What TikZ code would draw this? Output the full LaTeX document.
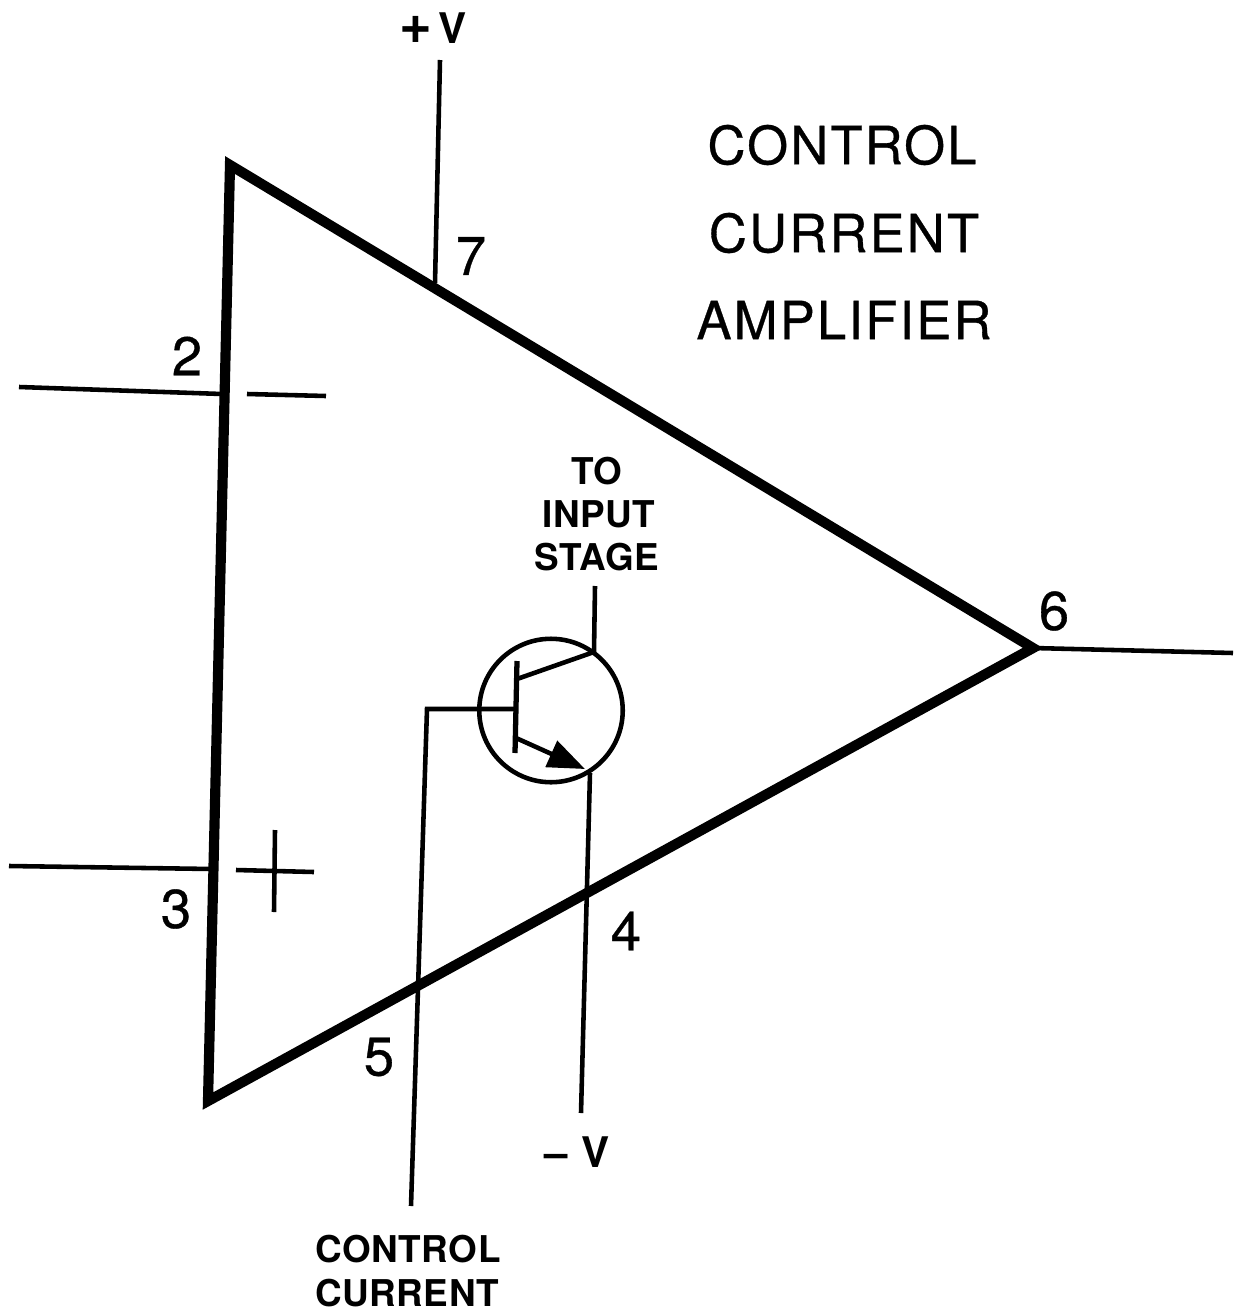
\documentclass[tikz,border=0pt]{standalone}
\usepackage{fontspec}
\setmainfont{TeX Gyre Heros}
\newfontfamily\titlefont[LetterSpace=4,FakeBold=0.6]{TeX Gyre Heros}
\newfontfamily\smallfont[LetterSpace=1.5]{TeX Gyre Heros}
\newfontfamily\pinfont[FakeBold=0.6]{TeX Gyre Heros}
\usetikzlibrary{arrows.meta, positioning}
\tikzset{
    pinlabel/.style = {inner sep=0pt, font=\pinfont\fontsize{31}{31}\selectfont},
    supplylabel/.style = {inner sep=0pt, font=\fontsize{24}{24}\selectfont\bfseries},
    titlelabel/.style = {inner sep=0pt, font=\titlefont\fontsize{30}{30}\selectfont},
    smalllabel/.style = {inner sep=0pt, font=\smallfont\fontsize{21}{21}\selectfont\bfseries},
    body/.style = {line width=5.8pt, line join=miter},
    wire/.style = {line width=2.6pt}}

\begin{document}
\begin{tikzpicture} [x=0.02cm, y=-0.02cm]
    \useasboundingbox (0,0) rectangle (1236,1315);
    % triangle corners
    \coordinate (top) at (230,165);
    \coordinate (bot) at (208,1101);
    \coordinate (tip) at (1033,648);
    \draw [body] (top) -- (tip) -- (bot) -- cycle;

    % supply, inputs, output
    \coordinate (vplusend) at (440,60);
    \coordinate (vplusin) at (435,283);
    \coordinate (inminus) at (19,387);
    \coordinate (inminusin) at (222,394);
    \coordinate (inplus) at (9,866);
    \coordinate (inplusin) at (212,869);
    \coordinate (outend) at (1233,653);
    \draw [wire] (vplusend) -- (vplusin);
    \draw [wire] (inminus) -- (inminusin);
    \draw [wire] (inplus) -- (inplusin);
    \draw [wire] (tip) -- (outend);

    % minus and plus signs
    \coordinate (ml) at (247,394);
    \coordinate (mr) at (326,396);
    \coordinate (pl) at (236,870);
    \coordinate (pr) at (314,872);
    \coordinate (pt) at (275,830);
    \coordinate (pb) at (274,912);
    \draw [wire] (ml) -- (mr);
    \draw [wire] (pl) -- (pr);
    \draw [wire] (pt) -- (pb);

    % transistor
    \node (q1) [draw, circle, wire, minimum size=2.87cm, inner sep=0pt] at (551,710.5) {};
    \coordinate (bartop) at (517,661);
    \coordinate (barbot) at (515,753);
    \coordinate (barmid) at (516,709);
    \coordinate (collbar) at (517,679);
    \coordinate (coll) at (594,652);
    \coordinate (emitbar) at (516,738);
    \coordinate (emit) at (585,769);
    \coordinate (emitleg) at (590,773);
    \coordinate (collend) at (595,586);
    \coordinate (emitend) at (581,1113);
    \coordinate (baseturn) at (427,709);
    \coordinate (baseend) at (411,1206);
    \draw [line width=3pt] (bartop) -- (barbot);
    \draw [wire] (collbar) -- (coll) -- (collend);
    \draw [wire, -{Triangle[length=0.74cm, width=0.56cm]}] (emitbar) -- (emit);
    \draw [wire] (emitleg) -- (emitend);
    \draw [wire] (barmid) -- (baseturn) -- (baseend);

    % pin numbers
    \node (pin7) [pinlabel] at (471,256) {7};
    \node (pin2) [pinlabel] at (187,356) {2};
    \node (pin3) [pinlabel] at (176,909) {3};
    \node (pin5) [pinlabel] at (379,1057) {5};
    \node (pin4) [pinlabel] at (626,931) {4};
    \node (pin6) [pinlabel] at (1054,611) {6};

    % other labels
    \node (vplus) [supplylabel] at (433,28) {{\fontsize{32}{32}\selectfont +}\,V};
    \node (vminus) [supplylabel] at (577,1152) {--\,\,V};
    \node (title1) [titlelabel] at (842,145) {CONTROL};
    \node (title2) [titlelabel] at (844,233) {CURRENT};
    \node (title3) [titlelabel] at (844,320) {AMPLIFIER};
    \node (stage1) [smalllabel] at (597,471) {TO};
    \node (stage2) [smalllabel] at (599,514) {INPUT};
    \node (stage3) [smalllabel] at (597,557) {STAGE};
    \node (ctrl1) [smalllabel] at (408,1249) {CONTROL};
    \node (ctrl2) [smalllabel] at (407,1293) {CURRENT};
\end{tikzpicture}
\end{document}
